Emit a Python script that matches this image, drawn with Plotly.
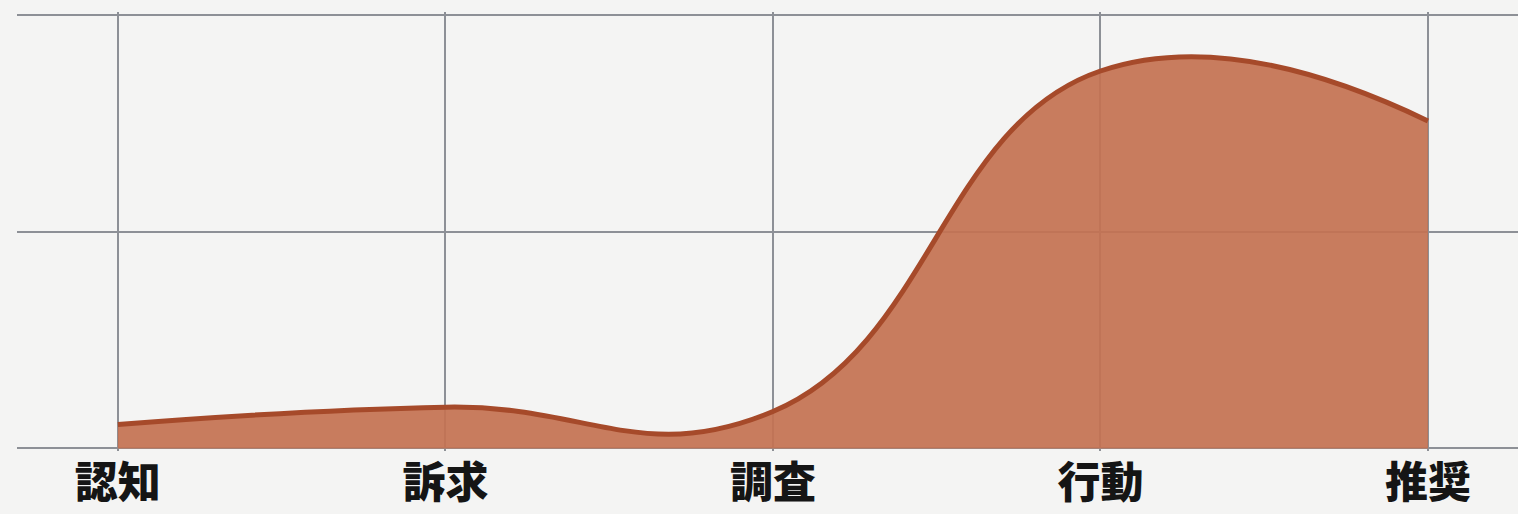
import plotly.graph_objects as go

# Customer journey stages and the engagement level reached at each one
stages = ["認知", "訴求", "調査", "行動", "推奨"]
engagement = [5.5, 9.5, 8.5, 87.0, 75.5]

# Gridline levels on the value axis (labels hidden)
y_grid = [0, 50, 100]

fig = go.Figure()

fig.add_trace(go.Scatter(
    x=stages,
    y=engagement,
    mode="lines",
    line=dict(shape="spline", smoothing=1.3, color="#a64a2a", width=5),
    fill="tozeroy",
    fillcolor="rgba(196,114,82,0.93)",
    hoverinfo="x+y",
    showlegend=False,
))

fig.update_layout(
    width=1518,
    height=514,
    margin=dict(l=17, r=0, t=12, b=63),
    paper_bgcolor="#f4f4f3",
    plot_bgcolor="#f4f4f3",
    font=dict(family="Noto Sans CJK JP", color="#151515"),
    xaxis=dict(
        range=[-0.308, 4.275],
        automargin=False,
        showgrid=True,
        gridcolor="#8d9096",
        gridwidth=2,
        zeroline=False,
        showline=False,
        ticks="",
        tickfont=dict(size=43, family="Noto Sans CJK JP", weight=900, color="#151515"),
        ticklabelstandoff=3,
    ),
    yaxis=dict(
        range=[-0.6, 100.6],
        automargin=False,
        tickvals=y_grid,
        showticklabels=False,
        showgrid=True,
        gridcolor="#8d9096",
        gridwidth=2,
        zeroline=False,
        showline=False,
        ticks="",
    ),
)

fig.write_html("out.html")
